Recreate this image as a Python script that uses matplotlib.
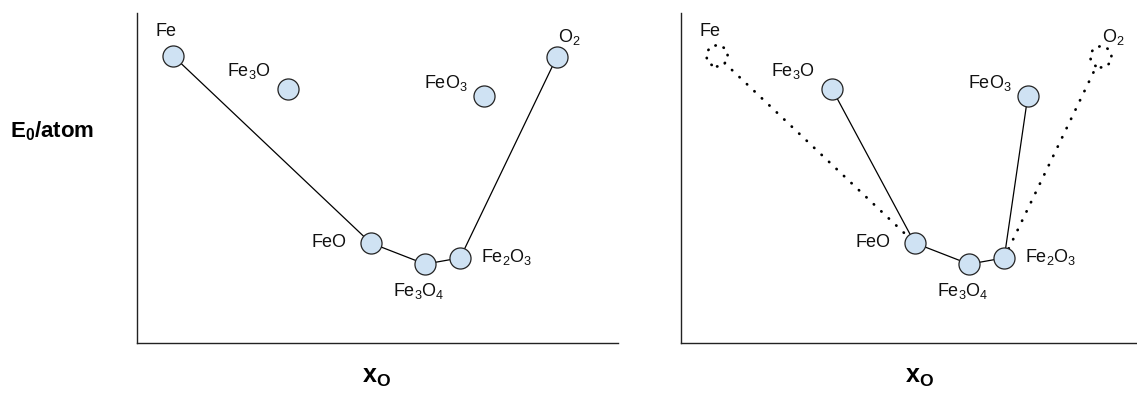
import matplotlib.pyplot as plt

plt.rcParams['font.family'] = ['Liberation Sans', 'DejaVu Sans']
plt.rcParams['mathtext.fontset'] = 'custom'
plt.rcParams['mathtext.rm'] = 'Liberation Sans'
plt.rcParams['mathtext.bf'] = 'Liberation Sans:bold'
plt.rcParams['mathtext.it'] = 'Liberation Sans:italic'
plt.rcParams['mathtext.default'] = 'regular'

# schematic positions (x_O along x, E0/atom along y, arbitrary units)
phases = ['Fe', 'Fe3O', 'FeO', 'Fe3O4', 'Fe2O3', 'FeO3', 'O2']
labels = ['Fe', 'Fe$_3$O', 'FeO', 'Fe$_3$O$_4$', 'Fe$_2$O$_3$', 'FeO$_3$', 'O$_2$']
x_o = [0.075, 0.314, 0.486, 0.599, 0.672, 0.721, 0.873]
energy = [0.870, 0.770, 0.303, 0.239, 0.258, 0.748, 0.867]

# left: hull with Fe and O2 as end members; right: Fe3O and FeO3 replace them
hull_left = ['Fe', 'FeO', 'Fe3O4', 'Fe2O3', 'O2']
hull_right = ['Fe3O', 'FeO', 'Fe3O4', 'Fe2O3', 'FeO3']
dotted_right = [['Fe', 'FeO'], ['Fe2O3', 'O2']]
ghost_right = ['Fe', 'O2']

# label offsets in pixels (styling)
offsets = {'Fe': (-7, 24), 'Fe3O': (-39, 18), 'FeO': (-42, 1), 'Fe3O4': (-6, -27),
           'Fe2O3': (46, 1), 'FeO3': (-38, 13), 'O2': (12, 20)}

fill = '#cfe2f3'
edge = '#222222'


def pt(name):
    i = phases.index(name)
    return x_o[i], energy[i]


def draw_path(ax, names, ls='-', lw=0.9):
    xs = [pt(n)[0] for n in names]
    ys = [pt(n)[1] for n in names]
    ax.plot(xs, ys, color='black', lw=lw, ls=ls, zorder=1, dash_capstyle='round')


def setup(ax):
    ax.set_ylim(0, 1)
    for s in ['top', 'right']:
        ax.spines[s].set_visible(False)
    for s in ['left', 'bottom']:
        ax.spines[s].set_color('#222222')
        ax.spines[s].set_linewidth(1.0)
    ax.set_xticks([])
    ax.set_yticks([])


def annotate(ax):
    for name, lab in zip(phases, labels):
        ax.annotate(lab, pt(name), xytext=offsets[name], textcoords='offset pixels',
                    ha='center', va='center', fontsize=13, color='#111111')


fig = plt.figure(figsize=(11.37, 3.93), dpi=100)
W, H = 1137, 393
ax1 = fig.add_axes([137 / W, 50 / H, 481 / W, 330 / H])
ax2 = fig.add_axes([681 / W, 50 / H, 456 / W, 330 / H])
setup(ax1)
setup(ax2)
ax1.set_xlim(0, 1)
ax2.set_xlim(0, 456 / 481)

msize = 230

# left panel
draw_path(ax1, hull_left)
ax1.scatter(x_o, energy, s=msize, facecolor=fill, edgecolor=edge, linewidth=0.9, zorder=3)
annotate(ax1)

# right panel
draw_path(ax2, hull_right)
for seg in dotted_right:
    draw_path(ax2, seg, ls=(0, (0.1, 3.6)), lw=2.0)
solid = [n for n in phases if n not in ghost_right]
ax2.scatter([pt(n)[0] for n in solid], [pt(n)[1] for n in solid], s=msize,
            facecolor=fill, edgecolor=edge, linewidth=0.9, zorder=3)
ax2.scatter([pt(n)[0] for n in ghost_right], [pt(n)[1] for n in ghost_right], s=msize,
            facecolor='white', edgecolor='black', linewidth=2.0,
            linestyle=(0, (0.1, 3.0)), capstyle='round', zorder=3)
annotate(ax2)

fig.text(52 / W, 1 - 131 / H, r'$\mathbf{E_0/atom}$', ha='center', va='center',
         fontsize=16)
fig.text(377 / W, 1 - 377 / H, r'$\mathbf{x_O}$', ha='center', va='center', fontsize=18)
fig.text(920 / W, 1 - 377 / H, r'$\mathbf{x_O}$', ha='center', va='center', fontsize=18)

fig.savefig('out.png', dpi=100)
